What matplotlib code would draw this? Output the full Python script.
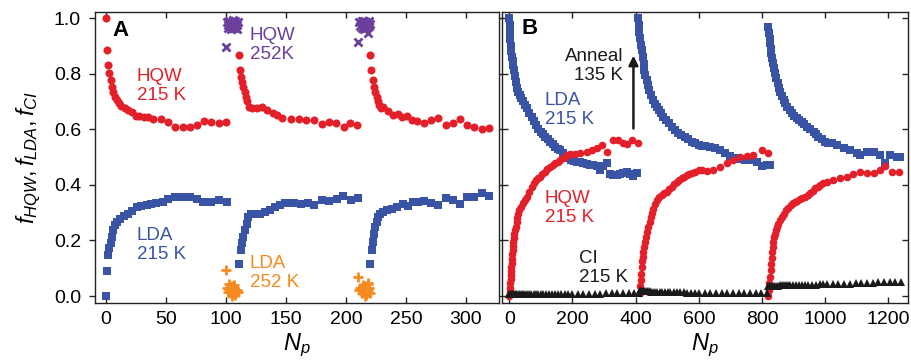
import matplotlib
matplotlib.use("Agg")
import matplotlib.pyplot as plt

plt.rcParams['font.family'] = ['Liberation Sans', 'DejaVu Sans']
plt.rcParams['mathtext.fontset'] = 'custom'
plt.rcParams['mathtext.rm'] = 'Liberation Sans'
plt.rcParams['mathtext.it'] = 'Liberation Sans:italic'

RED = '#e3202a'
BLUE = '#3a54a5'
PURPLE = '#6b3f9c'
ORANGE = '#f58b20'
BLACK = '#1a1a1a'

# ---------------- panel A data ----------------
hqw215_a_x = [0, 1, 2, 3, 4, 5, 6, 7.5, 9, 11, 13, 16, 18.5, 21.5, 25, 28, 32, 35, 39, 46, 52, 57.5, 64, 70, 76, 82, 88, 94, 100.5,
              110.6, 111.7, 112.5, 113.3, 114.4, 115.6, 116.7, 118, 119.4, 122, 126, 130.5, 134.5, 139, 143, 147, 154, 161, 167,
              173, 180, 186, 192, 198, 203, 209.5,
              220, 220.8, 222.2, 223.3, 224.4, 225.6, 226.7, 227.8, 229.2, 231, 235.3, 239.4, 243, 246.4, 250.6, 254.7, 259, 265,
              271, 277, 283, 289, 295, 300.6, 306.7, 313, 319]
hqw215_a_y = [1.0, 0.887, 0.83, 0.803, 0.777, 0.753, 0.735, 0.717, 0.705, 0.693, 0.683, 0.677, 0.669, 0.663, 0.647, 0.647, 0.645,
              0.643, 0.638, 0.636, 0.627, 0.609, 0.609, 0.609, 0.615, 0.631, 0.627, 0.621, 0.627,
              0.867, 0.813, 0.789, 0.771, 0.753, 0.735, 0.717, 0.70, 0.681, 0.675, 0.675, 0.679, 0.669, 0.659, 0.651, 0.639, 0.636,
              0.636, 0.635, 0.635, 0.619, 0.627, 0.621, 0.609, 0.621, 0.615,
              0.867, 0.813, 0.777, 0.753, 0.735, 0.717, 0.703, 0.687, 0.675, 0.681, 0.667, 0.651, 0.655, 0.645, 0.647, 0.635,
              0.631, 0.624, 0.635, 0.642, 0.615, 0.624, 0.637, 0.615, 0.609, 0.60, 0.606]

lda215_a_x = [0, 1, 2, 3, 4, 5, 6, 7.5, 9, 11.7, 15, 18.6, 22, 25.6, 29.7, 34, 38, 42, 48, 52, 57.5, 64, 70, 75.6, 81, 88, 94.4, 100.6,
              111, 112.2, 113.3, 114.4, 115.8, 117.2, 118.6, 120.6, 124.2, 128.3, 132.5, 136.7, 140.8, 145, 149, 153, 157, 162.8,
              168.3, 173.3, 179.7, 186, 192.2, 197.8, 204, 210.3,
              220, 221.4, 222.2, 223.3, 224.4, 225.6, 226.9, 228.3, 231, 234.4, 238, 242.2, 247.8, 252, 256, 260.3, 265, 270.8,
              277, 283, 289, 295, 300.6, 306.7, 313, 319.2]
lda215_a_y = [0.0, 0.091, 0.147, 0.172, 0.19, 0.213, 0.237, 0.255, 0.267, 0.279, 0.288, 0.297, 0.307, 0.321, 0.324, 0.327, 0.331,
              0.336, 0.339, 0.348, 0.357, 0.357, 0.355, 0.348, 0.337, 0.339, 0.345, 0.339,
              0.115, 0.165, 0.19, 0.213, 0.237, 0.261, 0.283, 0.294, 0.297, 0.297, 0.301, 0.309, 0.321, 0.327, 0.333, 0.336,
              0.333, 0.331, 0.333, 0.327, 0.345, 0.342, 0.348, 0.36, 0.345, 0.351,
              0.114, 0.165, 0.195, 0.225, 0.249, 0.267, 0.285, 0.297, 0.303, 0.309, 0.315, 0.321, 0.331, 0.324, 0.339, 0.339,
              0.343, 0.333, 0.327, 0.351, 0.345, 0.331, 0.357, 0.357, 0.369, 0.36]

hqw252_x = [101, 102, 103, 104, 105, 106, 107, 108, 109, 110, 104, 106, 108, 102, 109, 100.5,
            211, 212, 213, 214, 215, 216, 217, 218, 219, 220, 213, 215, 217, 219, 210.3, 218.6]
hqw252_y = [0.985, 0.975, 0.99, 0.97, 0.985, 0.965, 0.98, 0.99, 0.975, 0.985, 0.96, 0.995, 0.965, 0.965, 0.96, 0.895,
            0.985, 0.97, 0.99, 0.975, 0.99, 0.97, 0.985, 0.975, 0.99, 0.98, 0.965, 0.96, 0.965, 0.97, 0.915, 0.945]

lda252_x = [101, 102, 103, 104, 105, 106, 107, 108, 109, 110, 103, 105, 107, 100.5,
            211, 212, 213, 214, 215, 216, 217, 218, 219, 220, 214, 216, 218, 210.3, 218.6]
lda252_y = [0.03, 0.015, 0.025, 0.01, 0.035, 0.02, 0.03, 0.005, 0.02, 0.015, 0.045, 0.0, 0.04, 0.094,
            0.02, 0.03, 0.01, 0.025, 0.015, 0.035, 0.005, 0.02, 0.03, 0.01, 0.04, 0.0, 0.045, 0.069, 0.046]

# ---------------- panel B data ----------------
lda215_b_x = [0, 1, 2, 3, 5, 7, 9, 11, 13, 15, 18, 21, 24, 28, 33, 38, 44, 50, 57, 64, 71, 78, 85, 92, 99, 106, 114, 122, 130,
              138, 146, 154, 162, 170, 178, 186, 194, 204, 214, 224, 234, 245, 255, 266, 277, 287, 298, 308, 319, 329, 340, 350,
              361, 372, 382, 393, 403,
              408, 410, 412, 414, 417, 419, 422, 425, 428, 431, 435, 439, 443, 448, 454, 460, 467, 473, 479, 487, 496, 505, 514,
              524, 535, 545, 556, 567, 578, 588, 599, 610, 620, 636, 652, 667, 683, 699, 715, 730, 746, 762, 783, 799, 815, 825,
              820, 822, 824, 826, 828, 829, 832, 834, 838, 841, 845, 849, 853, 857, 862, 868, 874, 880, 887, 894, 902, 910, 918,
              926, 934, 942, 952, 963, 970, 978, 989, 1000, 1010, 1021, 1037, 1058, 1079, 1100, 1110, 1132, 1153, 1174, 1190,
              1205, 1227, 1237]
lda215_b_y = [1.0, 0.975, 0.95, 0.925, 0.9, 0.88, 0.86, 0.845, 0.83, 0.815, 0.79, 0.77, 0.75, 0.735, 0.722, 0.712, 0.70, 0.688,
              0.675, 0.66, 0.645, 0.63, 0.615, 0.6, 0.59, 0.582, 0.573, 0.564, 0.555, 0.546, 0.537, 0.53, 0.524, 0.514, 0.505,
              0.495, 0.489, 0.486, 0.483, 0.482, 0.48, 0.476, 0.471, 0.47, 0.468, 0.453, 0.468, 0.48, 0.44, 0.435, 0.437, 0.439,
              0.442, 0.447, 0.44, 0.432, 0.441,
              1.0, 0.975, 0.95, 0.93, 0.905, 0.885, 0.86, 0.835, 0.815, 0.795, 0.777, 0.76, 0.742, 0.724, 0.705, 0.692, 0.681,
              0.668, 0.657, 0.645, 0.633, 0.621, 0.609, 0.598, 0.587, 0.58, 0.573, 0.564, 0.555, 0.549, 0.543, 0.541, 0.54,
              0.537, 0.531, 0.525, 0.514, 0.504, 0.498, 0.492, 0.49, 0.489, 0.483, 0.468, 0.471, 0.471,
              0.969, 0.945, 0.925, 0.909, 0.89, 0.873, 0.855, 0.837, 0.82, 0.801, 0.783, 0.765, 0.75, 0.735, 0.72, 0.705, 0.693,
              0.681, 0.669, 0.657, 0.648, 0.639, 0.633, 0.627, 0.618, 0.609, 0.6, 0.591, 0.582, 0.573, 0.564, 0.555, 0.552,
              0.549, 0.543, 0.531, 0.525, 0.516, 0.507, 0.519, 0.519, 0.507, 0.48, 0.507, 0.501, 0.501]

hqw215_b_x = [0, 1, 2, 3, 4, 5, 6, 6.5, 7.5, 8.5, 9.5, 10.5, 11.5, 12.7, 14, 16, 18, 20.5, 23, 26, 29, 32, 38, 44, 50, 57, 64,
              71, 78, 85, 91, 97, 105, 113, 121, 129, 137, 145, 153, 161, 169, 176, 184, 192, 208, 224, 245, 261, 277, 293, 308,
              327, 345, 359, 372, 388, 408,
              414, 415, 416, 417, 419, 421, 422, 424, 426.5, 429, 433, 436, 440, 444, 448, 452, 456, 461, 467, 475, 483, 490,
              498, 506, 514, 522, 530, 538, 546, 554, 562, 570, 578, 588, 599, 610, 625, 646, 667, 688, 709, 730, 752, 773, 799,
              820,
              820, 821.5, 823, 825, 827.7, 829, 831, 832.5, 834, 836, 838, 841, 844.5, 848, 852, 857, 862.6, 869, 876, 883, 891,
              898, 905, 912, 920.5, 928, 936, 944, 952, 960, 968, 976, 984, 994, 1005, 1026, 1047, 1068, 1089, 1110, 1132, 1153,
              1174, 1190, 1211, 1235]
hqw215_b_y = [0.0, 0.015, 0.03, 0.046, 0.06, 0.075, 0.09, 0.105, 0.12, 0.135, 0.15, 0.165, 0.18, 0.195, 0.21, 0.225, 0.237, 0.25,
              0.265, 0.28, 0.295, 0.309, 0.32, 0.333, 0.345, 0.357, 0.375, 0.393, 0.405, 0.417, 0.423, 0.429, 0.438, 0.447,
              0.456, 0.465, 0.471, 0.477, 0.483, 0.489, 0.495, 0.501, 0.506, 0.511, 0.511, 0.513, 0.519, 0.525, 0.531, 0.543,
              0.519, 0.563, 0.561, 0.549, 0.547, 0.563, 0.552,
              0.01, 0.035, 0.058, 0.08, 0.105, 0.125, 0.141, 0.16, 0.177, 0.195, 0.213, 0.23, 0.249, 0.267, 0.285, 0.3, 0.315,
              0.33, 0.345, 0.355, 0.363, 0.369, 0.375, 0.384, 0.393, 0.402, 0.411, 0.417, 0.423, 0.429, 0.435, 0.438, 0.441,
              0.447, 0.453, 0.455, 0.451, 0.455, 0.465, 0.477, 0.489, 0.501, 0.504, 0.507, 0.525, 0.513,
              0.0, 0.023, 0.046, 0.07, 0.094, 0.115, 0.136, 0.157, 0.177, 0.195, 0.213, 0.225, 0.237, 0.249, 0.261, 0.273, 0.285,
              0.297, 0.309, 0.318, 0.327, 0.333, 0.339, 0.343, 0.348, 0.352, 0.357, 0.363, 0.369, 0.378, 0.387, 0.393, 0.399,
              0.405, 0.411, 0.417, 0.423, 0.429, 0.439, 0.447, 0.441, 0.441, 0.453, 0.468, 0.447, 0.447]

ci215_x = [0, 3, 6, 9, 12, 15, 18, 22, 26, 30, 35, 40, 45, 51, 57, 63, 70, 77, 84, 92, 100, 108, 117, 126, 135, 145, 155, 165,
           176, 187, 198, 216, 234, 252, 270, 288, 306, 324, 342, 360, 378, 396, 410,
           414, 417, 420, 423, 427, 431, 435, 440, 445, 450, 456, 462, 469, 476, 484, 492, 501, 510, 520, 530, 541, 552, 564,
           576, 588, 600, 618, 636, 654, 672, 690, 708, 726, 744, 762, 780, 798, 816,
           820, 823, 826, 829, 833, 837, 841, 846, 851, 856, 862, 868, 875, 882, 890, 898, 907, 916, 926, 936, 947, 958, 970,
           982, 994, 1006, 1024, 1042, 1060, 1078, 1096, 1114, 1132, 1150, 1168, 1186, 1204, 1222, 1240]
ci215_y = [0.006, 0.007, 0.007, 0.007, 0.007, 0.007, 0.007, 0.007, 0.007, 0.007, 0.007, 0.007, 0.008, 0.008, 0.008, 0.008, 0.008,
           0.008, 0.008, 0.008, 0.008, 0.008, 0.008, 0.008, 0.008, 0.008, 0.008, 0.008, 0.009, 0.009, 0.009, 0.009, 0.009,
           0.009, 0.009, 0.009, 0.01, 0.01, 0.01, 0.01, 0.01, 0.01, 0.01,
           0.02, 0.019, 0.019, 0.018, 0.018, 0.018, 0.017, 0.017, 0.017, 0.016, 0.016, 0.016, 0.015, 0.015, 0.015, 0.014,
           0.014, 0.014, 0.013, 0.013, 0.013, 0.013, 0.012, 0.012, 0.012, 0.012, 0.012, 0.011, 0.011, 0.011, 0.011, 0.011,
           0.011, 0.011, 0.011, 0.011, 0.011, 0.011,
           0.036, 0.036, 0.036, 0.036, 0.037, 0.037, 0.037, 0.037, 0.037, 0.038, 0.038, 0.038, 0.038, 0.039, 0.039, 0.039,
           0.039, 0.04, 0.04, 0.04, 0.041, 0.041, 0.041, 0.042, 0.042, 0.043, 0.043, 0.044, 0.045, 0.045, 0.046, 0.047,
           0.047, 0.048, 0.049, 0.049, 0.05, 0.051, 0.052]

TICK_FS = 14
NOTE_FS = 13.5

fig = plt.figure(figsize=(9.12, 3.63), dpi=100)
ax_a = fig.add_axes([95 / 912, 1 - 303 / 363, (499 - 95) / 912, (303 - 12) / 363])
ax_b = fig.add_axes([502 / 912, 1 - 303 / 363, (908 - 502) / 912, (303 - 12) / 363])

for ax in (ax_a, ax_b):
    for s in ax.spines.values():
        s.set_linewidth(1.0)
        s.set_color('#222222')
    ax.set_ylim(-0.025, 1.022)
    ax.set_yticks([0.0, 0.2, 0.4, 0.6, 0.8, 1.0])
    ax.tick_params(axis='both', which='major', direction='in', length=4, width=1.0,
                   top=True, right=True, labelsize=TICK_FS, color='#222222', pad=6)

ax_a.tick_params(axis='y', which='major', left=True, direction='out')
ax_a.tick_params(axis='y', right=True, direction='in')
ax_a.yaxis.set_tick_params(which='major', direction='out')
ax_a.set_yticklabels(['0.0', '0.2', '0.4', '0.6', '0.8', '1.0'])

# panel A
ax_a.plot(hqw215_a_x, hqw215_a_y, 'o', color=RED, ms=5.8, mew=0)
ax_a.plot(lda215_a_x, lda215_a_y, 's', color=BLUE, ms=5.3, mew=0)
ax_a.plot(hqw252_x, hqw252_y, 'x', color=PURPLE, ms=5.5, mew=2)
ax_a.plot(lda252_x, lda252_y, '+', color=ORANGE, ms=7, mew=2)
ax_a.set_xlim(-9, 327.5)
ax_a.set_xticks([0, 50, 100, 150, 200, 250, 300])
ax_a.set_xlabel(r'$N_p$', fontsize=17, labelpad=2)
ax_a.set_ylabel(r'$f_{HQW}, f_{LDA}, f_{CI}$', fontsize=17, labelpad=8)

ax_a.text(5.8, 0.955, 'A', fontsize=16, fontweight='bold', va='center', ha='left')
ax_a.text(25.8, 0.82, 'HQW\n215 K', color=RED, fontsize=NOTE_FS, va='top', ha='left', linespacing=1.15)
ax_a.text(120, 0.968, 'HQW\n252K', color=PURPLE, fontsize=NOTE_FS, va='top', ha='left', linespacing=1.15)
ax_a.text(25.8, 0.248, 'LDA\n215 K', color=BLUE, fontsize=NOTE_FS, va='top', ha='left', linespacing=1.15)
ax_a.text(120, 0.147, 'LDA\n252 K', color=ORANGE, fontsize=NOTE_FS, va='top', ha='left', linespacing=1.15)

# panel B
ax_b.plot(lda215_b_x, lda215_b_y, 's', color=BLUE, ms=5.3, mew=0)
ax_b.plot(hqw215_b_x, hqw215_b_y, 'o', color=RED, ms=5.5, mew=0)
ax_b.plot(ci215_x, ci215_y, '^', color=BLACK, ms=5.5, mew=0)
ax_b.set_xlim(-23, 1262)
ax_b.set_xticks([0, 200, 400, 600, 800, 1000, 1200])
ax_b.tick_params(axis='y', labelleft=False)
ax_b.set_xlabel(r'$N_p$', fontsize=17, labelpad=2)

ax_b.text(40, 0.962, 'B', fontsize=16, fontweight='bold', va='center', ha='left')
ax_b.text(360, 0.892, 'Anneal\n135 K', color=BLACK, fontsize=NOTE_FS, va='top', ha='right',
          multialignment='right', linespacing=1.15)
ax_b.text(113, 0.734, 'LDA\n215 K', color=BLUE, fontsize=NOTE_FS, va='top', ha='left', linespacing=1.15)
ax_b.text(113, 0.381, 'HQW\n215 K', color=RED, fontsize=NOTE_FS, va='top', ha='left', linespacing=1.15)
ax_b.text(221, 0.165, 'CI\n215 K', color=BLACK, fontsize=NOTE_FS, va='top', ha='left', linespacing=1.15)
ax_b.annotate('', xy=(393, 0.865), xytext=(393, 0.603),
              arrowprops=dict(arrowstyle='-|>', lw=1.8, color=BLACK, mutation_scale=14, shrinkA=0, shrinkB=0))

fig.savefig('out.png', dpi=100)
